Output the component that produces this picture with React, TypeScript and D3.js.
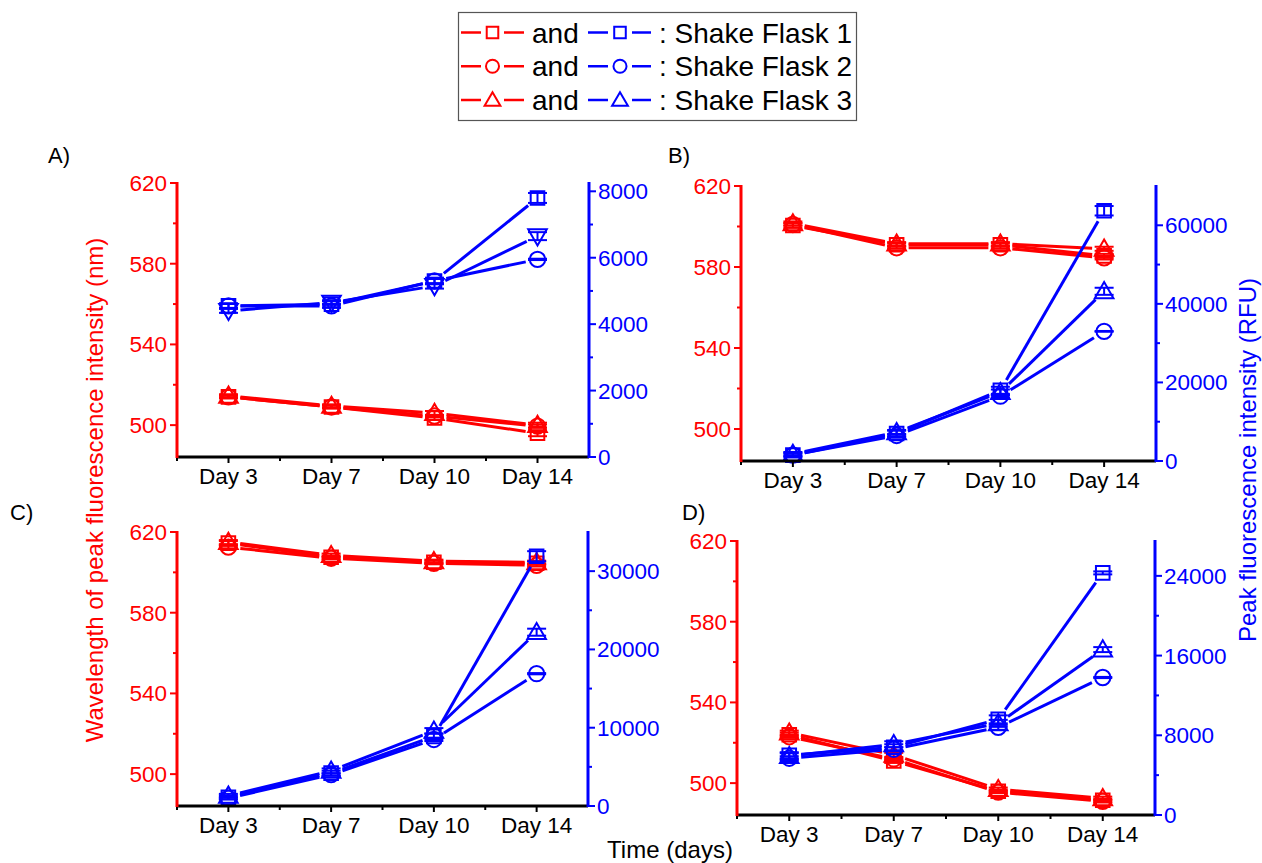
import React from "react";
import * as d3 from "d3";

const DAYS = ["Day 3", "Day 7", "Day 10", "Day 14"];

// Wavelength of peak fluorescence (nm): square, circle, triangle = Shake Flask 1, 2, 3
const aWave = [
  [514, 509, 503.5, 496],
  [514, 509, 504.5, 499.5],
  [514.5, 509.5, 506, 500],
];
const aWaveErr = [
  [0.8, 0.8, 0.8, 1.5],
  [0.5, 0.6, 0.6, 0.8],
  [0.8, 0.8, 1.0, 1.2],
];
// Peak fluorescence intensity (RFU)
const aRfu = [
  [4550, 4600, 5300, 7800],
  [4550, 4550, 5300, 5950],
  [4400, 4650, 5150, 6650],
];
const aRfuErr = [
  [80, 90, 100, 150],
  [60, 60, 70, 20],
  [60, 70, 80, 120],
];

const bWave = [
  [600.5, 591, 591, 585.5],
  [601, 589.5, 589.5, 584.5],
  [601.5, 591.5, 591.5, 589],
];
const bWaveErr = [
  [1.2, 0.8, 0.8, 1.0],
  [0.6, 0.5, 0.5, 0.8],
  [1.0, 0.8, 0.8, 1.0],
];
const bRfu = [
  [1500, 7000, 18000, 63700],
  [1500, 6500, 16500, 33000],
  [1800, 7300, 17500, 43200],
];
const bRfuErr = [
  [600, 700, 900, 1200],
  [300, 400, 300, 100],
  [500, 600, 700, 900],
];

const cWave = [
  [614.5, 607.5, 605, 604.5],
  [612.5, 607, 604.5, 603.5],
  [615, 608.5, 605.5, 605],
];
const cWaveErr = [
  [1.0, 0.8, 0.8, 0.8],
  [0.6, 0.6, 0.5, 0.6],
  [1.0, 0.8, 0.8, 0.8],
];
const cRfu = [
  [1100, 4200, 8900, 31900],
  [1000, 4000, 8500, 16900],
  [1300, 4500, 9600, 22200],
];
const cRfuErr = [
  [250, 300, 350, 650],
  [150, 150, 200, 80],
  [250, 300, 350, 450],
];

const dWave = [
  [524, 511, 496, 491.5],
  [523, 512, 495.5, 491],
  [525, 514, 497, 492.5],
];
const dWaveErr = [
  [1.0, 1.0, 0.8, 0.8],
  [0.6, 0.6, 0.5, 0.6],
  [1.0, 1.0, 0.8, 0.8],
];
const dRfu = [
  [6000, 6800, 9600, 24300],
  [5700, 6600, 8800, 13800],
  [5900, 7100, 9200, 16600],
];
const dRfuErr = [
  [300, 300, 400, 150],
  [200, 200, 250, 60],
  [300, 300, 350, 250],
];

const WAVE_TICKS = [500, 540, 580, 620];
const WAVE_MINOR = [520, 560, 600];
const aRfuTicks = [0, 2000, 4000, 6000, 8000];
const bRfuTicks = [0, 20000, 40000, 60000];
const cRfuTicks = [0, 10000, 20000, 30000];
const dRfuTicks = [0, 8000, 16000, 24000];

const LEGEND_ROWS = [": Shake Flask 1", ": Shake Flask 2", ": Shake Flask 3"];

const RED = "#ff0000";
const BLUE = "#0000ff";
const FONT = "'Liberation Sans', Arial, sans-serif";

type Shape = "square" | "circle" | "triangle" | "down";

function markerPath(shape: Shape, scale = 1): string {
  if (shape === "square") return d3.symbol(d3.symbolSquare, 185 * scale * scale)()!;
  if (shape === "circle") return d3.symbol(d3.symbolCircle, 185 * scale * scale)()!;
  return d3.symbol(d3.symbolTriangle, 150 * scale * scale)()!;
}

function Marker({ x, y, shape, color, scale = 1 }: { x: number; y: number; shape: Shape; color: string; scale?: number }) {
  const rot = shape === "down" ? " rotate(180)" : "";
  const dy = shape === "triangle" ? 1.5 * scale : shape === "down" ? -1.5 * scale : 0;
  return (
    <path
      d={markerPath(shape, scale)}
      transform={`translate(${x},${y + dy})${rot}`}
      fill="none"
      stroke={color}
      strokeWidth={2}
    />
  );
}

function SeriesMarks({
  xs,
  values,
  errs,
  y,
  shape,
  color,
}: {
  xs: number[];
  values: number[];
  errs: number[];
  y: d3.ScaleLinear<number, number>;
  shape: Shape;
  color: string;
}) {
  const pts = values.map((v, i) => [xs[i], y(v)] as [number, number]);
  const gap = 12;
  const segs = pts.slice(1).map((p, i) => {
    const a = pts[i];
    const dx = p[0] - a[0];
    const dy = p[1] - a[1];
    const len = Math.hypot(dx, dy);
    const ux = dx / len;
    const uy = dy / len;
    return d3.line()([
      [a[0] + ux * gap, a[1] + uy * gap],
      [p[0] - ux * gap, p[1] - uy * gap],
    ])!;
  });
  return (
    <g>
      {segs.map((d, i) => (
        <path key={"s" + i} d={d} stroke={color} strokeWidth={3} fill="none" />
      ))}
      {values.map((v, i) => {
        const x = xs[i];
        const y1 = y(v - errs[i]);
        const y2 = y(v + errs[i]);
        return (
          <g key={"e" + i} stroke={color} strokeWidth={2}>
            <line x1={x} x2={x} y1={y1} y2={y2} />
            <line x1={x - 9.5} x2={x + 9.5} y1={y1} y2={y1} />
            <line x1={x - 9.5} x2={x + 9.5} y1={y2} y2={y2} />
          </g>
        );
      })}
      {pts.map((p, i) => (
        <Marker key={"m" + i} x={p[0]} y={p[1]} shape={shape} color={color} />
      ))}
    </g>
  );
}

type PanelProps = {
  label: string;
  labelX: number;
  labelY: number;
  x0: number;
  x1: number;
  yTop: number;
  yBot: number;
  rfuMax: number;
  rfuTicks: number[];
  rfuMinorStep: number;
  wave: number[][];
  waveErr: number[][];
  rfu: number[][];
  rfuErr: number[][];
  rfuShapes: Shape[];
};

function Panel(p: PanelProps) {
  const x = d3.scalePoint<string>().domain(DAYS).range([p.x0, p.x1]).padding(0.5);
  const yW = d3.scaleLinear().domain([484.2, 620]).range([p.yBot, p.yTop]);
  const yR = d3.scaleLinear().domain([0, p.rfuMax]).range([p.yBot, p.yTop]);
  const xs = DAYS.map((d) => x(d)!);
  const step = x.step();
  const xMinor = [p.x0, ...xs.slice(0, -1).map((v) => v + step / 2)];
  const rMinor = d3.range(p.rfuMinorStep, p.rfuMax, p.rfuMinorStep).filter((v) => !p.rfuTicks.includes(v));
  const waveShapes: Shape[] = ["square", "circle", "triangle"];

  return (
    <g fontFamily={FONT}>
      <text x={p.labelX} y={p.labelY} fontSize={22} fill="#000">
        {p.label}
      </text>

      {/* series */}
      {p.wave.map((vals, i) => (
        <SeriesMarks key={"w" + i} xs={xs} values={vals} errs={p.waveErr[i]} y={yW} shape={waveShapes[i]} color={RED} />
      ))}
      {p.rfu.map((vals, i) => (
        <SeriesMarks key={"r" + i} xs={xs} values={vals} errs={p.rfuErr[i]} y={yR} shape={p.rfuShapes[i]} color={BLUE} />
      ))}

      {/* bottom axis */}
      <line x1={p.x0} x2={p.x1} y1={p.yBot} y2={p.yBot} stroke="#000" strokeWidth={3} />
      {xs.map((v, i) => (
        <g key={"xt" + i}>
          <line x1={v} x2={v} y1={p.yBot} y2={p.yBot + 6} stroke="#000" strokeWidth={2} />
          <text x={v} y={p.yBot + 27} fontSize={22.5} textAnchor="middle" fill="#000">
            {DAYS[i]}
          </text>
        </g>
      ))}
      {xMinor.map((v, i) => (
        <line key={"xm" + i} x1={v} x2={v} y1={p.yBot} y2={p.yBot + 4} stroke="#000" strokeWidth={2} />
      ))}

      {/* left axis */}
      <line x1={p.x0} x2={p.x0} y1={p.yTop - 1} y2={p.yBot + 1} stroke={RED} strokeWidth={3} />
      {WAVE_TICKS.map((t) => (
        <g key={"lt" + t}>
          <line x1={p.x0 - 7} x2={p.x0} y1={yW(t)} y2={yW(t)} stroke={RED} strokeWidth={2} />
          <text x={p.x0 - 10} y={yW(t) + 8} fontSize={22.5} textAnchor="end" fill={RED}>
            {t}
          </text>
        </g>
      ))}
      {WAVE_MINOR.map((t) => (
        <line key={"lm" + t} x1={p.x0 - 4} x2={p.x0} y1={yW(t)} y2={yW(t)} stroke={RED} strokeWidth={2} />
      ))}

      {/* right axis */}
      <line x1={p.x1} x2={p.x1} y1={p.yTop - 1} y2={p.yBot + 1} stroke={BLUE} strokeWidth={3} />
      {p.rfuTicks.map((t) => (
        <g key={"rt" + t}>
          <line x1={p.x1} x2={p.x1 + 7} y1={yR(t)} y2={yR(t)} stroke={BLUE} strokeWidth={2} />
          <text x={p.x1 + 9} y={yR(t) + 8} fontSize={22.5} textAnchor="start" fill={BLUE}>
            {t}
          </text>
        </g>
      ))}
      {rMinor.map((t) => (
        <line key={"rm" + t} x1={p.x1} x2={p.x1 + 4} y1={yR(t)} y2={yR(t)} stroke={BLUE} strokeWidth={2} />
      ))}
    </g>
  );
}

function Legend() {
  const rowY = d3.scalePoint<string>().domain(LEGEND_ROWS).range([32.5, 100]);
  const shapes: Shape[] = ["square", "circle", "triangle"];
  return (
    <g fontFamily={FONT}>
      <rect x={458.5} y={12.5} width={398} height={108} fill="#fff" stroke="#555" strokeWidth={1.2} />
      {LEGEND_ROWS.map((row, i) => {
        const y = rowY(row)!;
        return (
          <g key={row}>
            <line x1={461} x2={481} y1={y} y2={y} stroke={RED} strokeWidth={2.5} />
            <line x1={504} x2={524} y1={y} y2={y} stroke={RED} strokeWidth={2.5} />
            <Marker x={492.5} y={y} shape={shapes[i]} color={RED} scale={0.85} />
            <text x={532} y={y + 10} fontSize={28} fill="#000">
              and
            </text>
            <line x1={588} x2={608} y1={y} y2={y} stroke={BLUE} strokeWidth={2.5} />
            <line x1={632} x2={651} y1={y} y2={y} stroke={BLUE} strokeWidth={2.5} />
            <Marker x={620} y={y} shape={shapes[i]} color={BLUE} scale={0.85} />
            <text x={659} y={y + 10} fontSize={28} fill="#000">
              {row}
            </text>
          </g>
        );
      })}
    </g>
  );
}

export default function App() {
  return (
    <svg width={1262} height={863} style={{ position: "absolute", left: 0, top: 0, background: "#fff" }}>
      <rect width={1262} height={863} fill="#fff" />
      <Legend />
      <Panel
        label="A)" labelX={48} labelY={163}
        x0={177} x1={589} yTop={183} yBot={457}
        rfuMax={8250} rfuTicks={aRfuTicks} rfuMinorStep={1000}
        wave={aWave} waveErr={aWaveErr} rfu={aRfu} rfuErr={aRfuErr}
        rfuShapes={["square", "circle", "down"]}
      />
      <Panel
        label="B)" labelX={668} labelY={163}
        x0={741} x1={1156} yTop={186} yBot={461}
        rfuMax={70000} rfuTicks={bRfuTicks} rfuMinorStep={10000}
        wave={bWave} waveErr={bWaveErr} rfu={bRfu} rfuErr={bRfuErr}
        rfuShapes={["square", "circle", "triangle"]}
      />
      <Panel
        label="C)" labelX={10} labelY={520}
        x0={177} x1={588} yTop={532} yBot={806}
        rfuMax={35000} rfuTicks={cRfuTicks} rfuMinorStep={5000}
        wave={cWave} waveErr={cWaveErr} rfu={cRfu} rfuErr={cRfuErr}
        rfuShapes={["square", "circle", "triangle"]}
      />
      <Panel
        label="D)" labelX={682} labelY={520}
        x0={737} x1={1155} yTop={541} yBot={815}
        rfuMax={27500} rfuTicks={dRfuTicks} rfuMinorStep={4000}
        wave={dWave} waveErr={dWaveErr} rfu={dRfu} rfuErr={dRfuErr}
        rfuShapes={["square", "circle", "triangle"]}
      />
      <text
        x={0} y={0} fontFamily={FONT} fontSize={24} fill={RED} textAnchor="middle"
        transform="translate(103,490) rotate(-90)"
      >
        Wavelength of peak fluorescence intensity (nm)
      </text>
      <text
        x={0} y={0} fontFamily={FONT} fontSize={24} fill={BLUE} textAnchor="middle"
        transform="translate(1256,460) rotate(-90)"
      >
        Peak fluorescence intensity (RFU)
      </text>
      <text x={670} y={858} fontFamily={FONT} fontSize={24} fill="#000" textAnchor="middle">
        Time (days)
      </text>
    </svg>
  );
}
